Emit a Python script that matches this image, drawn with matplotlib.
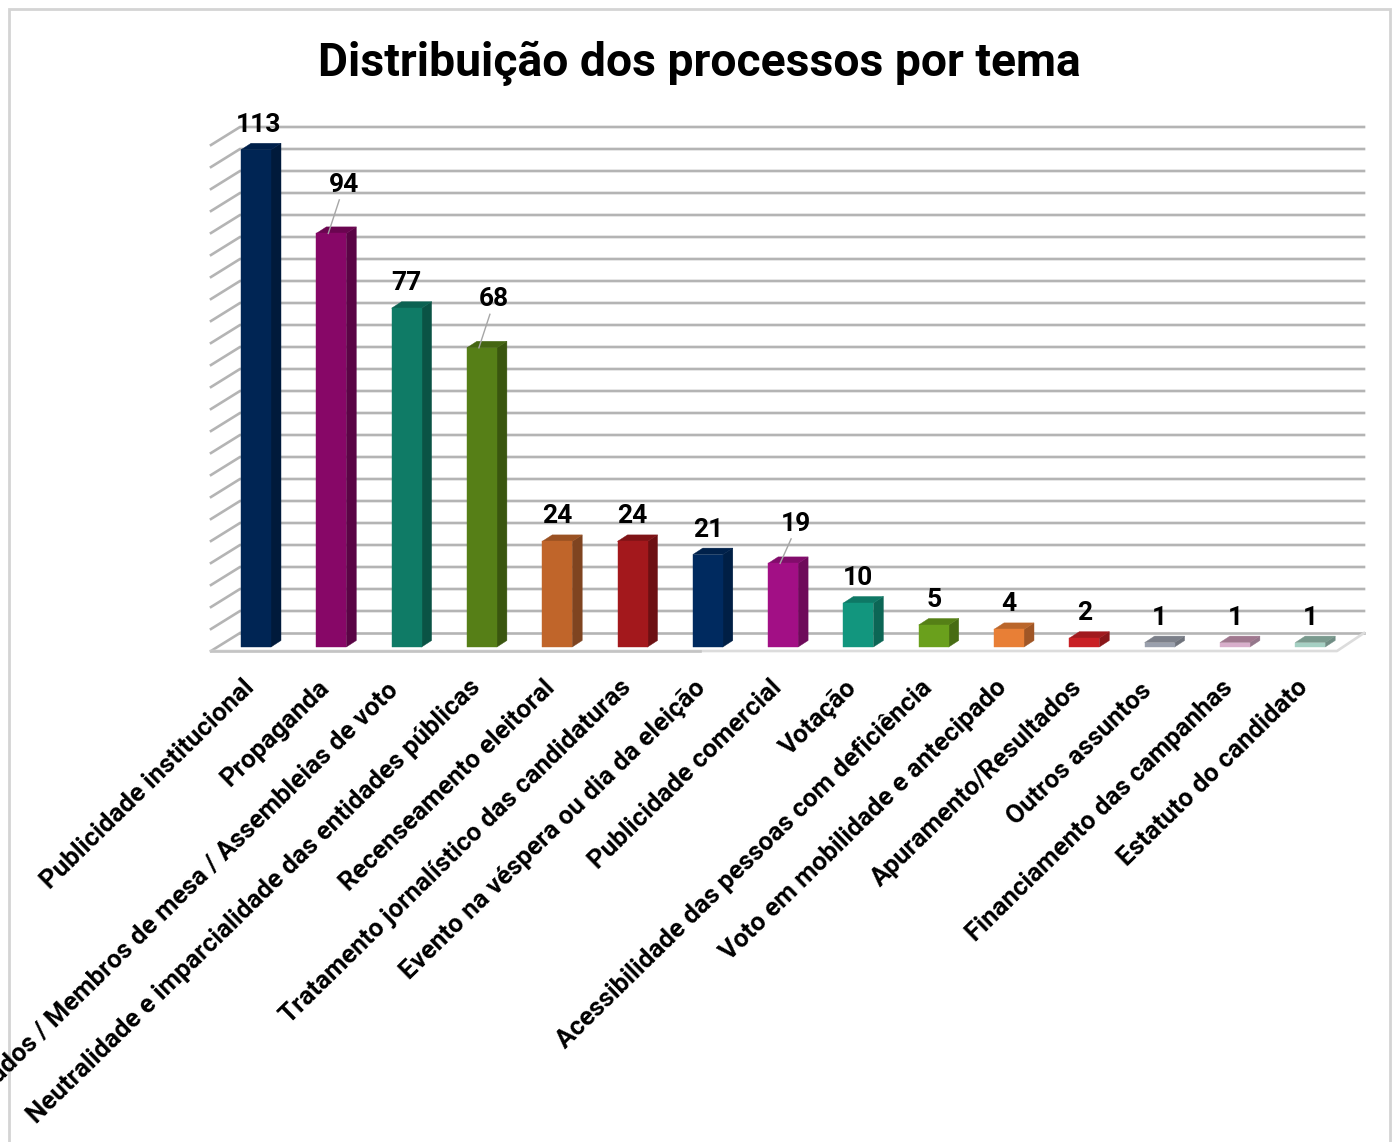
# -*- coding: UTF-8 -*-
import matplotlib
matplotlib.use("Agg")
import matplotlib.pyplot as plt
from matplotlib.patches import Rectangle

plt.rcParams['font.family'] = ['Roboto', 'DejaVu Sans']

# dados
temas = ["Publicidade institucional", "Propaganda", "Delegados / Membros de mesa / Assembleias de voto",
         "Neutralidade e imparcialidade das entidades públicas", "Recenseamento eleitoral",
         "Tratamento jornalístico das candidaturas", "Evento na véspera ou dia da eleição",
         "Publicidade comercial", "Votação", "Acessibilidade das pessoas com deficiência",
         "Voto em mobilidade e antecipado", "Apuramento/Resultados", "Outros assuntos",
         "Financiamento das campanhas", "Estatuto do candidato"]
processos = [113, 94, 77, 68, 24, 24, 21, 19, 10, 5, 4, 2, 1, 1, 1]
grid_vals = list(range(0, 120, 5))

cor_frente = ["#002554", "#870767", "#0f7b66", "#567f17", "#c0652a", "#a3181c", "#002a5f", "#a20f85",
              "#12967e", "#6aa01c", "#e87f36", "#c92025", "#9aa0ad", "#d8aecb", "#a5d0c3"]
cor_lado = ["#001a3b", "#5a0445", "#0a5345", "#3a560f", "#7f4420", "#6d1013", "#001f45", "#6e0a5a",
            "#0c6655", "#476c13", "#a05626", "#891619", "#6f737c", "#94768a", "#708d84"]
cor_topo = ["#00204a", "#6a0550", "#0c6252", "#456612", "#9a5122", "#7f1316", "#00214b", "#820c6b",
            "#0e7865", "#558016", "#ba662b", "#a11a1e", "#7c808a", "#a0788f", "#7a9a8e"]
com_guia = [1, 3, 7]
recuados = [2, 12]

W, H = 1392, 1142
fig = plt.figure(figsize=(W / 100, H / 100), dpi=100)

# escala: categoria 0 em x=256 px, 75.3 px por categoria; valor 0 em y=647 px, 4.4 px por unidade
PX_CAT = 75.3
PX_VAL = 4.4
x0 = 256.0
y0 = 647.0
ax = fig.add_axes([0, 0, 1, 1])
ax.set_xlim(-x0 / PX_CAT, (W - x0) / PX_CAT)
ax.set_ylim(-(H - y0) / PX_VAL, y0 / PX_VAL)
ax.axis('off')


def dx(px):
    return px / PX_CAT


def dy(px):
    return px / PX_VAL


xs = list(range(len(temas)))

# paredes: linhas da grelha
xl_front, xl_back, xr_back = dx(211 - x0), dx(240 - x0), dx(1364 - x0)
xr_front = dx(1337 - x0)
for v in grid_vals:
    yb = v + dy(14)
    yf = v - dy(4)
    if v == 0:
        continue
    ax.plot([xl_front, xl_back, xr_back], [yf, yb, yb], color="#b4b4b4", lw=1.9, zorder=1,
            solid_joinstyle='miter')

# chao
ax.plot([xl_front, xl_back], [dy(-4), dy(14)], color="#b4b4b4", lw=1.9, zorder=1)
ax.plot([xl_back, xr_back], [dy(14), dy(14)], color="#b4b4b4", lw=1.9, zorder=1)
ax.plot([xl_front, xr_front, xr_back], [dy(-4), dy(-4), dy(14)], color="#dcdcdc", lw=1.9, zorder=1)
ax.plot([xl_front, dx(700 - x0)], [dy(-4), dy(-4)], color="#c4c4c4", lw=1.9, zorder=1)

# barras 3D
bw = 30 / PX_CAT
ddx = dx(10)
ddy = dy(6.5)
ax.bar(xs, processos, width=bw, color=cor_frente, edgecolor=cor_frente, linewidth=0.3, zorder=3.2)
for i, v in zip(xs, processos):
    l, r = i - bw / 2, i + bw / 2
    ax.fill([r, r + ddx, r + ddx, r], [0, ddy, v + ddy, v], facecolor=cor_lado[i], edgecolor=cor_lado[i],
            lw=0.3, zorder=3)
    ax.fill([l, l + ddx, r + ddx, r], [v, v + ddy, v + ddy, v], facecolor=cor_topo[i], edgecolor=cor_topo[i],
            lw=0.3, zorder=3)

# rotulos de dados
for i, v in zip(xs, processos):
    if i in com_guia:
        alt = 48.5 if i != 7 else 39.5
        ax.text(i + dx(13 if i != 3 else 12), v + dy(alt), str(v), ha='center', va='center', fontsize=19,
                fontweight='bold', color="#000000", zorder=5)
        ax.plot([i + dx(-3), i + dx(8)], [v, v + dy(alt - 15)], color="#a6a6a6", lw=1, zorder=4)
    else:
        ax.text(i + dx(2 if i == 0 else 0), v + dy(25), str(v), ha='center', va='center', fontsize=19,
                fontweight='bold', color="#000000", zorder=5)

# eixo x
for i, t in zip(xs, temas):
    rx, ry = (-6, -3) if i in recuados else (0, 0)
    ax.text(i + dx(-5.5 + rx), dy(-37 + ry), t, rotation=44.4, rotation_mode='anchor', ha='right', va='center',
            fontsize=18.6, fontweight='bold', color="#000000", zorder=5)

fig.text(699 / W, 1 - 63 / H, "Distribuição dos processos por tema", ha='center', va='center',
         fontsize=33.3, fontweight='bold', color="#000000")

# moldura (sem linha em baixo)
ax.add_artist(Rectangle((9 / W, -0.01), (1389.5 - 9) / W, 1 + 0.01 - 9 / H, transform=fig.transFigure,
                        fill=False, edgecolor="#d4d4d4", linewidth=2, zorder=0))

fig.savefig("out.png", dpi=100)
